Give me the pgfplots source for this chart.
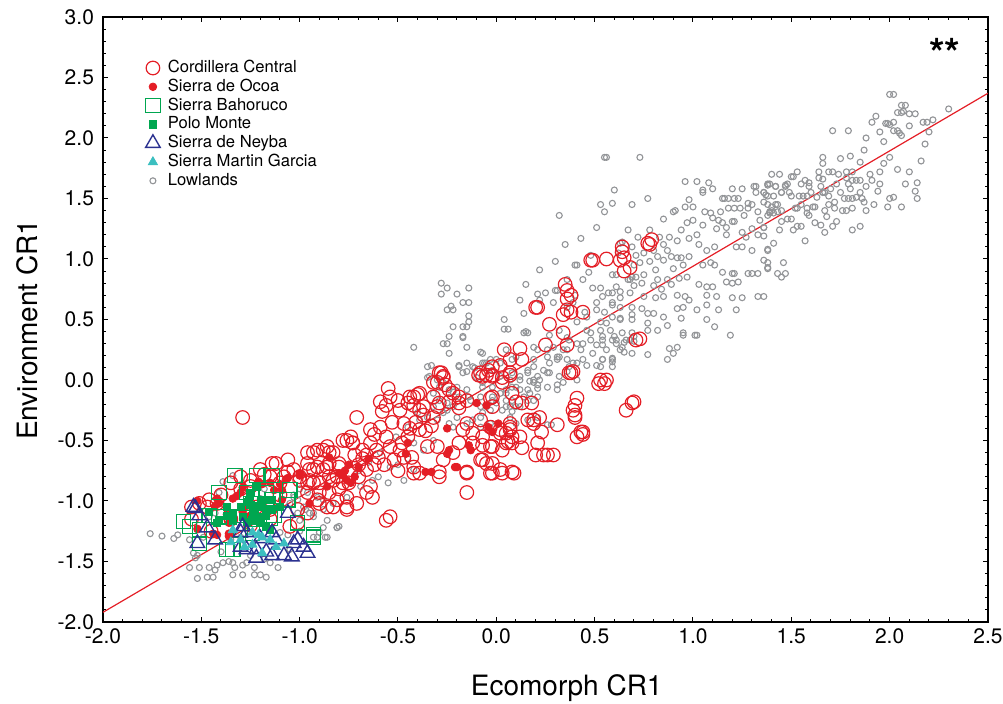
\documentclass[border=0pt]{standalone}
\usepackage{fontspec}
\setmainfont{TeX Gyre Heros}
\usepackage{pgfplots}
\pgfplotsset{compat=1.18}
\definecolor{ccred}{HTML}{E41E26}
\definecolor{bgreen}{HTML}{00A650}
\definecolor{nblue}{HTML}{2B3190}
\definecolor{mcyan}{HTML}{3BBFC0}
\definecolor{lgray}{HTML}{929497}

\pgfplotsset{
  lowstyle/.style={only marks, mark=o, mark size=1.5pt, draw=lgray, line width=0.55pt},
  ccstyle/.style={only marks, mark=o, mark size=3.4pt, draw=ccred, line width=0.6pt},
  ocstyle/.style={only marks, mark=*, mark size=1.9pt, draw=ccred, fill=ccred},
  bhstyle/.style={only marks, mark=square, mark size=3.6pt, draw=bgreen, line width=0.6pt},
  pmstyle/.style={only marks, mark=square*, mark size=1.8pt, draw=bgreen, fill=bgreen},
  nystyle/.style={only marks, mark=triangle, mark size=4.2pt, draw=nblue, line width=0.7pt},
  mgstyle/.style={only marks, mark=triangle*, mark size=2.6pt, draw=mcyan, fill=mcyan},
}

\begin{document}
\begin{tikzpicture}
\begin{axis}[
  scale only axis,
  width=442.5pt, height=302.5pt,
  xmin=-2, xmax=2.5, ymin=-2, ymax=3,
  xtick distance=0.5, ytick distance=0.5, minor tick num=4,
  tick align=inside,
  major tick length=2.6pt, minor tick length=1.6pt,
  axis line style={line width=0.75pt},
  every tick/.style={black, line width=0.5pt},
  /pgf/number format/.cd, fixed, fixed zerofill, precision=1, assume math mode=true,
  /pgfplots/.cd,
  ticklabel style={font=\fontsize{10.5}{12}\selectfont},
  yticklabel style={xshift=-1pt},
  xlabel={Ecomorph CR1}, ylabel={Environment CR1},
  label style={font=\fontsize{14}{16}\selectfont},
  xlabel style={at={(axis description cs:0.524,-0.109)}, anchor=center},
  ylabel style={at={(axis description cs:-0.0859,0.483)}, anchor=center},
  legend style={at={(axis cs:-1.797,2.656)}, anchor=north west, draw=none, fill=none,
    inner sep=0pt, outer sep=0pt, row sep=0pt,
    font=\fontsize{8.3}{9.4}\selectfont,
    nodes={inner sep=0.5pt, text height=6.4pt, text depth=2pt}},
  legend cell align=left,
  legend image code/.code={\path[draw=none, fill=none] (0pt,0pt) -- (12pt,0pt); \draw[#1] plot coordinates {(5pt,0pt)};},
]

% Lowlands
\addplot[lowstyle, forget plot] coordinates {
(2.00,2.36)(2.02,2.36)(2.06,2.27)(2.08,2.27)(2.04,2.21)(2.07,2.22)(2.10,2.20)(2.13,2.20)(2.06,2.21)(2.30,2.24)
(1.93,2.18)(1.91,2.13)(1.98,2.12)(1.99,2.12)(2.00,2.11)(2.02,2.13)(2.17,2.13)(2.19,2.13)(2.04,2.06)(2.05,2.04)
(2.06,2.02)(2.02,2.06)(1.71,2.06)(1.79,2.06)(1.97,1.97)(2.18,1.95)(1.87,1.90)(2.00,1.84)(1.97,1.79)(2.16,1.81)
(2.04,1.74)(2.14,1.63)(2.13,1.56)(2.14,1.50)(1.94,1.56)(1.91,1.65)(2.00,1.50)(2.02,1.51)(1.99,1.43)(2.06,1.43)
(1.86,1.50)(1.87,1.47)(1.77,1.50)(1.79,1.50)(1.81,1.50)(1.83,1.51)(1.85,1.27)(1.81,1.24)(1.73,1.31)(1.71,1.27)
(1.67,1.22)(1.76,1.40)(1.78,1.40)(1.81,1.42)(1.72,1.42)(1.69,1.45)(1.72,1.47)(1.67,1.40)(1.69,1.52)(1.69,1.72)
(1.71,1.72)(1.66,1.84)(1.66,1.79)(1.74,1.70)(1.78,1.72)(1.81,1.72)(1.78,1.67)(1.73,1.62)(1.79,1.62)(1.81,1.65)
(1.83,1.65)(1.85,1.65)(1.66,1.55)(1.68,1.35)
(1.55,1.45)(1.60,1.55)(1.65,1.60)(1.70,1.58)(1.75,1.55)(1.80,1.58)(1.85,1.55)(1.88,1.60)(1.90,1.70)(1.95,1.72)
(1.85,1.80)(1.80,1.85)(1.75,1.83)(1.92,1.45)(1.88,1.40)(1.62,1.30)(1.65,1.28)(1.95,1.62)(2.08,1.62)(2.10,1.72)
(1.88,2.00)(1.95,2.05)(2.10,2.10)(2.20,2.05)(2.22,2.15)
(1.40,1.70)(1.44,1.70)(1.50,1.68)(1.53,1.72)(1.38,1.62)(1.39,1.62)(1.42,1.60)(1.47,1.60)(1.48,1.62)(1.36,1.55)
(1.38,1.52)(1.41,1.52)(1.45,1.55)(1.49,1.55)(1.50,1.52)(1.54,1.52)(1.56,1.52)(1.58,1.52)(1.57,1.65)(1.59,1.63)
(1.59,1.60)(1.55,1.62)(1.64,1.72)(1.64,1.67)(1.66,1.66)(1.63,1.51)(1.66,1.55)(1.67,1.55)
(1.36,1.47)(1.38,1.45)(1.40,1.43)(1.42,1.45)(1.43,1.45)(1.39,1.39)(1.41,1.38)(1.38,1.36)(1.43,1.39)(1.45,1.40)
(1.45,1.31)(1.48,1.33)(1.50,1.33)(1.53,1.27)(1.55,1.27)(1.57,1.15)(1.52,1.42)(1.53,1.42)(1.58,1.42)(1.58,1.38)
(1.59,1.36)(1.61,1.43)(1.62,1.43)(1.36,1.26)(1.36,1.19)(1.41,1.13)(1.38,1.07)(1.36,0.99)(1.38,0.97)(1.38,0.92)
(1.46,0.97)(1.43,0.88)(1.45,0.85)(1.47,0.88)
(1.12,1.25)(1.15,1.30)(1.25,1.22)(1.27,1.18)(1.30,1.25)(1.33,1.20)(1.30,1.45)(1.24,1.42)(1.18,1.50)(1.20,1.58)
(1.02,1.20)(1.05,1.28)(1.00,1.32)(0.97,1.30)
(0.55,1.84)(0.56,1.84)(0.73,1.84)(0.96,1.64)(1.02,1.64)(1.08,1.63)(1.05,1.57)(1.05,1.55)(1.10,1.58)(1.15,1.50)
(1.16,1.50)(1.21,1.50)(1.23,1.50)(1.25,1.58)(1.31,1.60)(1.32,1.60)(1.32,1.55)(1.28,1.46)(1.36,1.55)(1.37,1.53)
(1.38,1.61)(1.42,1.60)(1.45,1.55)(1.47,1.61)(1.51,1.68)
(0.59,1.46)(0.69,1.45)(0.77,1.50)(0.55,1.39)(0.85,1.33)(0.90,1.39)(0.91,1.40)(0.96,1.43)(0.94,1.24)(0.98,1.49)
(1.00,1.43)(1.06,1.39)(1.09,1.38)(1.10,1.34)(1.13,1.32)(1.14,1.39)(1.18,1.42)(1.21,1.42)(1.17,1.26)(1.20,1.31)
(1.21,1.31)(1.26,1.36)(1.28,1.42)(1.33,1.39)(1.34,1.32)(1.36,1.26)(1.39,1.38)(1.40,1.40)
(0.67,1.24)(0.78,1.24)(0.83,1.18)(0.92,1.15)(0.98,1.17)(1.03,1.12)(1.07,1.07)(1.11,1.10)(1.17,1.20)(1.22,1.10)
(1.25,1.10)(1.30,1.07)(1.38,1.08)(1.44,1.24)(1.51,1.24)
(0.64,1.14)(0.63,1.13)(0.69,1.10)(0.71,1.03)(0.73,0.97)(0.80,1.07)(0.82,1.02)(0.87,1.07)(0.89,1.02)(0.85,0.99)
(0.92,1.01)(0.94,1.01)(0.98,1.02)(1.05,0.95)(1.09,0.97)(1.11,0.95)(1.15,0.89)(1.20,0.88)(1.21,0.88)(1.28,0.88)
(1.30,0.88)(1.33,0.88)(1.38,0.93)
(0.70,0.95)(0.75,1.05)(0.78,0.98)(0.85,1.12)(0.88,1.18)(0.90,0.92)(0.95,0.95)(0.72,1.18)(0.62,1.05)(0.80,0.78)
(0.84,0.75)(0.70,0.78)
(0.61,0.87)(0.67,0.83)(0.69,0.85)(0.75,0.87)(0.81,0.91)(0.82,0.83)(0.87,0.83)(0.89,0.79)(0.93,0.84)(0.97,0.85)
(1.03,0.79)(1.07,0.77)(1.10,0.77)(1.17,0.81)(1.20,0.80)(1.23,0.81)
(0.54,0.69)(0.59,0.72)(0.63,0.68)(0.68,0.72)(0.75,0.69)(0.81,0.68)(0.85,0.69)(0.92,0.70)(0.96,0.69)(0.98,0.66)
(1.07,0.70)(1.12,0.69)(1.20,0.68)(1.25,0.68)(1.33,0.69)(1.36,0.69)
(0.59,0.62)(0.69,0.60)(0.74,0.59)(0.80,0.55)(0.85,0.52)(0.92,0.59)(0.95,0.60)(1.02,0.58)(1.07,0.62)(1.13,0.58)
(1.22,0.58)(0.56,0.47)(0.63,0.51)(0.69,0.54)(0.77,0.47)(0.87,0.45)(0.94,0.51)(0.95,0.39)(1.07,0.50)(1.11,0.44)
(1.19,0.37)(0.54,0.33)(0.60,0.36)(0.65,0.31)(0.70,0.32)(0.77,0.21)(0.88,0.26)(0.92,0.27)(0.90,0.22)(1.02,0.37)
(0.54,0.17)(0.59,0.17)(0.65,0.23)(0.87,0.17)
(-0.28,0.80)(-0.28,0.71)(-0.25,0.76)(-0.14,0.76)(-0.20,0.71)(-0.17,0.64)(-0.14,0.64)(-0.25,0.58)(-0.23,0.61)(-0.22,0.58)
(-0.14,0.53)(-0.14,0.48)(-0.22,0.44)(-0.17,0.44)(-0.15,0.44)(-0.24,0.36)(-0.17,0.36)(-0.17,0.35)(-0.27,0.30)(-0.25,0.30)
(-0.15,0.27)(-0.42,0.27)(-0.24,0.22)(-0.08,0.23)(0.04,0.42)(0.06,0.42)(0.15,0.40)(0.16,0.39)(0.14,0.55)(0.21,0.71)
(0.25,0.72)(0.29,0.64)(0.30,0.74)(0.31,0.74)(0.44,0.83)(0.36,0.83)(0.40,0.95)(0.41,0.95)(0.47,0.89)(0.59,0.87)
(0.61,0.77)(0.57,0.72)(0.63,0.73)(0.68,0.83)(0.71,0.85)(0.74,0.80)(0.49,0.76)(0.53,0.76)(0.51,0.64)(0.59,0.64)
(0.63,0.60)(0.45,0.56)(0.51,0.58)(0.55,0.56)(0.36,0.60)(0.39,0.64)(0.41,0.48)(0.46,0.52)(0.53,0.48)(0.59,0.52)
(0.63,0.50)(0.69,0.50)(0.77,0.55)(0.46,0.41)(0.53,0.41)(0.58,0.41)(0.64,0.39)(0.69,0.39)(0.77,0.41)(0.82,0.41)
(0.32,0.41)(0.36,0.35)(0.48,0.33)(0.54,0.29)(0.61,0.33)(0.66,0.33)(0.43,0.25)(0.49,0.22)(0.56,0.25)(0.63,0.25)
(0.69,0.22)(0.29,0.27)(0.32,0.19)(0.36,0.25)(0.21,0.25)(0.26,0.25)(0.19,0.17)(0.27,0.14)(0.31,0.17)(0.39,0.14)
(0.46,0.12)(0.53,0.11)(0.59,0.15)(0.16,0.08)(0.21,0.03)(0.26,0.06)(0.32,0.03)(0.36,0.07)
(-0.03,0.17)(0.02,0.14)(0.08,0.17)(0.10,0.19)(-0.07,0.10)(-0.02,0.08)(0.02,0.03)(0.07,0.00)(0.12,0.03)(0.17,-0.01)
(0.22,0.00)(-0.07,-0.02)(-0.02,-0.06)(0.05,-0.08)(0.10,-0.06)(0.16,-0.08)(0.21,-0.04)(0.26,-0.06)(0.31,-0.04)(-0.12,0.11)
(-0.15,0.14)(-0.19,0.11)(-0.10,0.02)(-0.15,-0.08)(-0.20,-0.06)(-0.24,-0.08)(-0.27,-0.02)(-0.30,0.00)(-0.34,0.03)(-0.35,0.11)
(-0.33,0.12)(-0.29,-0.17)(-0.25,-0.19)(-0.22,-0.22)(-0.19,-0.14)(-0.13,-0.17)(-0.08,-0.14)(-0.05,-0.22)(0.00,-0.19)(0.03,-0.25)
(0.05,-0.17)(0.10,-0.22)(0.14,-0.14)(0.19,-0.17)(0.07,-0.31)(0.10,-0.36)(0.16,-0.33)(0.21,-0.31)(-0.27,-0.27)(-0.32,-0.22)
(-0.35,-0.31)(-0.39,-0.33)(-0.24,-0.36)(-0.20,-0.31)(-0.08,-0.31)(-0.03,-0.36)(-0.15,-0.36)
(-0.35,0.02)(-0.19,0.12)(-0.15,0.07)(-0.11,0.10)(-0.06,0.14)(0.00,0.17)
(-0.17,0.06)(-0.07,0.14)(0.08,0.06)(0.16,0.06)(0.19,-0.02)(0.12,-0.08)(0.05,-0.11)(-0.02,-0.17)(0.07,-0.22)(-0.08,-0.22)
(-0.14,-0.14)(-0.22,-0.10)(-0.29,-0.06)(-0.32,-0.11)(-0.25,-0.25)(-0.30,-0.33)(-0.40,-0.27)(-0.45,-0.39)(-0.51,-0.47)(-0.42,-0.52)
(-0.37,-0.58)(-0.32,-0.50)(-0.22,-0.39)(-0.12,-0.33)(-0.08,-0.39)(-0.59,-0.60)(-0.54,-0.72)(-0.42,-0.74)(-0.47,-0.83)(-0.63,-0.83)
(-0.69,-0.88)(-0.76,-0.97)(-0.83,-1.02)(-0.88,-1.07)(-0.93,-1.10)(-0.98,-1.05)(-1.03,-0.97)(-1.00,-1.16)(-0.86,-1.16)(-0.81,-1.22)
(-0.91,-1.30)
(-0.07,0.22)(-0.05,0.14)(0.05,0.25)(0.14,0.39)(0.19,0.27)(0.27,0.37)(0.34,0.25)(0.37,0.33)(0.41,0.30)(0.44,0.30)
(0.48,0.39)(0.51,0.29)(0.54,0.36)(0.59,0.33)(0.61,0.30)(0.64,0.27)(0.68,0.33)(0.70,0.36)(0.95,0.37)(1.01,0.37)
(0.26,0.19)(0.31,0.19)(0.36,0.17)(0.37,0.11)(0.41,0.14)(0.44,0.17)(0.51,0.12)(0.54,0.17)(0.59,0.18)(0.59,0.11)
(0.19,0.11)(0.24,0.08)(0.27,0.06)(0.19,0.00)(0.21,-0.07)(0.31,-0.08)(0.34,-0.02)(0.41,0.00)(0.12,0.00)(0.08,-0.06)
(0.02,-0.11)(-0.02,-0.14)(0.08,-0.17)(0.17,-0.11)(0.05,-0.22)(0.08,-0.26)(0.12,-0.22)(0.16,-0.17)(0.21,-0.14)(0.26,-0.37)
(0.28,-0.37)(-0.07,-0.27)(-0.03,-0.25)(-0.07,-0.06)
(0.35,1.12)(0.43,1.17)(0.51,1.26)(0.48,1.03)(0.30,0.98)(0.22,0.91)(0.15,0.79)(0.40,0.70)(0.22,0.66)(0.32,1.36)
(0.53,1.45)(0.60,1.57)(0.12,0.66)(0.04,0.50)
(-1.76,-1.27)(-1.70,-1.29)(-1.64,-1.31)(-1.62,-1.28)(-1.56,-1.32)(-1.54,-1.43)(-1.52,-1.45)(-1.53,-1.47)(-1.56,-1.55)(-1.51,-1.55)
(-1.52,-1.64)(-1.47,-1.63)(-1.44,-1.63)(-1.46,-1.55)(-1.43,-1.57)(-1.42,-1.53)(-1.39,-1.51)(-1.36,-1.50)(-1.34,-1.51)(-1.33,-1.55)
(-1.29,-1.53)(-1.27,-1.51)(-1.34,-1.61)(-1.29,-1.61)(-1.23,-1.55)(-1.23,-1.61)(-1.20,-1.61)(-1.17,-1.63)(-1.15,-1.51)(-1.11,-1.55)
(-1.39,-0.84)(-1.41,-0.93)(-1.34,-0.79)(-1.27,-1.17)(-1.20,-0.98)(-1.00,-0.90)(-0.95,-1.10)(-0.88,-1.22)(-0.93,-1.30)(-0.86,-1.30)
(-0.81,-1.22)(-1.46,-1.13)(-1.43,-1.10)(-1.52,-1.24)(-1.49,-1.30)(-1.35,-1.32)(-1.30,-1.30)
(-1.18,-0.90)(-1.03,-0.95)(-1.01,-0.99)(-1.05,-1.02)(-0.96,-0.93)(-0.91,-0.97)(-0.88,-0.99)(-0.90,-1.26)(-0.87,-1.30)(-0.80,-1.21)
(-0.97,-1.07)(-0.93,-1.13)(-1.01,-1.10)(-1.10,-1.26)(-1.06,-1.28)(-1.25,-1.45)(-1.18,-1.48)(-1.40,-1.42)(-1.05,-1.40)(-1.00,-1.25)
(-0.70,-0.75)(-0.65,-0.68)(-0.60,-0.80)(-0.55,-0.85)(-0.50,-0.70)(-0.45,-0.65)
};

% regression line
\addplot[ccred, line width=0.6pt, forget plot] coordinates {(-2,-1.92) (2.5,2.37)};

% Cordillera Central
\addplot[ccstyle] coordinates {
(-1.29,-0.31)
(0.21,0.60)(0.35,0.79)(0.38,0.70)(0.36,0.58)(0.48,0.99)(0.63,0.99)(0.64,1.10)(0.65,0.90)(0.78,1.12)(0.79,1.16)
(0.71,0.33)(0.73,0.34)(0.53,0.00)(0.56,0.00)(0.39,0.07)(0.40,-0.21)(0.40,-0.29)(0.44,-0.43)(0.41,-0.47)(0.66,-0.25)
(0.69,-0.19)(0.56,1.00)(0.64,1.06)(0.65,1.01)(0.68,0.93)(0.77,1.13)(0.49,0.99)(0.36,0.74)(0.36,0.67)(0.20,0.60)
(0.34,0.54)(0.38,0.56)(0.44,0.56)(0.27,0.46)(0.34,0.39)(0.36,0.29)(0.25,0.29)
(0.04,0.25)(0.12,0.26)(0.07,0.17)(0.02,0.12)(0.03,0.02)(-0.02,0.03)(-0.07,0.03)(-0.09,0.04)(-0.04,0.08)(0.38,0.06)
(0.52,-0.03)(0.55,-0.03)(-0.28,0.06)(-0.27,0.02)(-0.26,-0.04)(0.13,-0.19)(0.18,-0.19)(0.10,-0.18)(-0.03,-0.15)(-0.02,-0.22)
(0.41,-0.15)(0.39,-0.25)(0.40,-0.31)(0.19,-0.33)(0.22,-0.31)(0.23,-0.43)(0.31,-0.37)(0.43,-0.43)(0.44,-0.45)(0.70,-0.18)
(-0.19,-0.14)(-0.19,-0.23)(-0.24,-0.08)(-0.24,-0.18)(-0.32,-0.14)(-0.29,-0.19)(-0.39,-0.11)(-0.42,-0.14)(-0.45,-0.19)(-0.39,-0.25)
(-0.15,-0.36)(-0.17,-0.41)(-0.12,-0.44)(-0.07,-0.47)(0.02,-0.41)(0.05,-0.44)(0.07,-0.36)(-0.19,-0.52)(-0.12,-0.52)(-0.07,-0.54)
(-0.02,-0.55)(0.03,-0.58)(0.05,-0.52)(0.13,-0.56)(0.20,-0.62)(0.24,-0.62)(0.29,-0.62)(-0.07,-0.66)(-0.02,-0.69)(0.02,-0.74)
(0.08,-0.76)(-0.15,-0.76)(-0.29,-0.76)(-0.42,-0.72)(-0.47,-0.64)
(0.13,0.17)(0.03,-0.02)(0.07,0.04)(-0.02,0.11)(0.37,0.06)(0.07,-0.41)(0.08,-0.47)(0.06,-0.51)(-0.03,-0.55)(0.26,-0.62)
(-0.03,-0.77)(0.03,-0.77)(0.09,-0.77)
(-0.93,-0.60)(-0.88,-0.58)(-0.85,-0.60)(-0.78,-0.50)(-0.73,-0.52)(-0.96,-0.69)(-0.91,-0.72)(-0.85,-0.69)(-0.80,-0.69)(-1.03,-0.74)
(-1.06,-0.76)(-1.12,-0.69)(-1.08,-0.80)(-1.00,-0.83)(-0.95,-0.83)(-0.90,-0.85)(-0.85,-0.80)(-0.78,-0.85)(-0.74,-0.77)(-0.96,-0.93)
(-0.91,-0.99)(-0.86,-1.05)(-0.81,-0.99)(-0.76,-1.07)(-1.01,-1.07)(-0.96,-1.10)(-1.46,-0.99)(-1.42,-1.02)(-1.47,-1.05)(-1.22,-1.05)
(-1.15,-1.07)(-1.05,-1.21)(-1.01,-1.18)
(-1.14,-0.69)(-1.06,-0.66)(-0.96,-0.60)(-0.91,-0.58)(-0.86,-0.55)(-0.83,-0.60)(-0.93,-0.74)(-0.86,-0.72)(-0.83,-0.83)(-0.96,-0.85)
(-1.51,-1.02)
(-0.71,-0.31)(-0.55,-0.07)(-0.54,-0.14)(-0.59,-0.18)(-0.56,-0.21)(-0.50,-0.17)(-0.49,-0.25)(-0.44,-0.14)(-0.40,-0.12)(-0.42,-0.21)
(-0.37,-0.22)(-0.37,-0.29)(-0.32,-0.31)(-0.30,-0.22)(-0.29,0.06)(-0.27,0.03)(-0.30,-0.02)(-0.22,-0.11)(-0.19,-0.19)(-0.15,-0.17)
(-0.58,-0.26)(-0.53,-0.35)(-0.59,-0.39)(-0.64,-0.41)(-0.56,-0.47)(-0.74,-0.47)(-0.73,-0.52)(-0.76,-0.50)(-0.64,-0.52)(-0.68,-0.58)
(-0.61,-0.58)(-0.54,-0.55)(-0.49,-0.58)(-0.45,-0.47)(-0.43,-0.64)(-0.39,-0.41)(-0.35,-0.55)(-0.30,-0.55)(-0.27,-0.66)(-0.22,-0.60)
(0.08,-0.52)(0.12,-0.47)(-0.08,-0.66)(-0.05,-0.69)(-0.02,-0.77)(-0.15,-0.77)(-0.29,-0.80)(-0.39,-0.77)(-0.42,-0.77)(-0.15,-0.93)
(-0.54,-1.13)(-0.56,-1.16)(-0.71,-1.02)(-0.76,-1.05)(-0.64,-0.88)(-0.66,-0.93)(-0.63,-0.97)(-1.00,-0.80)(-0.95,-0.74)(-0.88,-0.74)
(-0.80,-0.72)(-0.93,-0.85)(-0.81,-0.80)(-0.90,-0.93)(-0.85,-0.93)(-0.80,-0.90)(-0.76,-0.97)(-0.83,-1.05)(-0.90,-1.02)
(-0.08,0.06)(-0.02,0.04)(0.07,0.06)(-0.02,-0.14)(0.08,-0.11)(0.16,-0.33)(0.19,-0.36)(0.21,-0.52)(-0.08,-0.33)(-0.03,-0.39)
(0.02,-0.44)(0.07,-0.39)(-0.32,-0.02)(-0.05,0.04)
(-0.70,-0.70)(-0.66,-0.74)(-0.62,-0.70)(-0.70,-0.80)(-0.75,-0.85)(-0.72,-0.62)(-0.68,-0.65)(-0.60,-0.64)(-0.57,-0.70)(-0.52,-0.66)
(-0.50,-0.75)(-0.48,-0.52)(-0.44,-0.40)(-0.41,-0.35)(-0.36,-0.42)(-0.33,-0.38)(-0.47,-0.36)(-0.62,-0.45)(-0.66,-0.62)(-1.20,-0.74)
(-1.18,-0.78)(-1.25,-0.83)(-1.30,-0.80)(-1.10,-0.85)
(-1.55,-1.05)(-1.40,-0.95)(-1.35,-0.85)(-1.30,-0.90)(-1.25,-0.88)(-1.15,-0.80)(-1.10,-0.95)(-1.35,-1.15)(-1.25,-1.20)(-1.15,-1.15)
(-1.55,-1.15)(-1.45,-1.25)
};
\addlegendentry{Cordillera Central}

% Sierra de Ocoa
\addplot[ocstyle] coordinates {
(-0.10,-0.19)(-0.05,-0.21)(0.01,-0.36)(-0.04,-0.39)(-0.02,-0.43)(-0.25,-0.40)(-0.24,-0.58)(-0.20,-0.72)(-0.14,-0.54)(-0.36,-0.76)
(-0.33,-0.76)(-0.13,-0.58)(-0.25,-0.61)(-0.21,-0.72)(-0.45,-0.52)(-0.46,-0.61)(-0.78,-0.79)(-0.74,-0.85)(-0.76,-0.83)(-0.85,-0.64)
(-1.00,-0.77)(-0.95,-1.02)(-0.86,-0.88)
(-1.29,-0.89)(-1.21,-0.84)(-1.19,-0.86)(-1.15,-0.85)(-1.10,-0.86)(-1.07,-0.82)(-1.42,-0.98)(-1.41,-1.02)(-1.43,-1.04)(-1.52,-1.00)
(-1.34,-0.98)(-1.32,-0.96)(-1.30,-0.93)(-1.09,-0.99)(-1.27,-1.04)(-1.24,-1.06)(-1.37,-1.11)(-1.52,-1.23)(-1.44,-1.27)(-1.42,-1.28)
(-1.36,-1.27)(-1.09,-0.91)(-1.13,-0.91)(-1.36,-1.18)(-1.36,-1.29)(-1.29,-1.09)(-1.25,-1.12)(-1.06,-0.81)(-1.00,-0.79)
(-0.80,-0.77)(-0.77,-0.75)(-0.72,-0.80)(-0.70,-0.72)(-0.75,-0.70)(-0.65,-0.65)
};
\addlegendentry{Sierra de Ocoa}

% Sierra Bahoruco
\addplot[bhstyle] coordinates {
(-1.33,-0.79)(-1.22,-0.79)(-1.14,-0.79)(-1.41,-0.93)(-1.27,-0.93)(-1.17,-0.93)(-1.05,-0.91)(-1.59,-1.17)(-1.56,-1.21)(-1.51,-1.35)
(-1.46,-1.12)(-1.41,-1.13)(-1.34,-1.40)(-1.25,-1.02)(-1.22,-1.07)(-1.01,-1.18)(-0.93,-1.30)(-0.93,-1.28)(-1.17,-1.02)(-1.14,-0.99)
(-1.51,-1.24)(-1.30,-1.24)(-1.24,-1.27)(-1.15,-1.14)(-1.06,-0.99)(-1.13,-1.12)(-1.37,-1.40)
};
\addlegendentry{Sierra Bahoruco}

% Polo Monte
\addplot[pmstyle] coordinates {
(-1.46,-1.09)(-1.37,-1.05)(-1.34,-1.10)(-1.30,-1.05)(-1.27,-1.01)(-1.25,-1.03)(-1.23,-1.09)(-1.20,-1.13)(-1.17,-1.12)(-1.14,-1.07)
(-1.14,-0.99)(-1.10,-1.05)(-1.42,-1.18)(-1.41,-1.16)(-1.27,-1.17)(-1.24,-1.16)(-1.20,-1.18)(-1.17,-1.21)(-1.15,-1.24)(-1.29,-1.13)
(-1.34,-1.16)(-1.26,-0.99)(-1.21,-1.05)(-1.18,-0.99)(-1.16,-1.07)(-1.37,-1.12)(-1.25,-0.93)(-1.22,-0.88)
};
\addlegendentry{Polo Monte}

% Sierra de Neyba
\addplot[nystyle] coordinates {
(-1.53,-1.06)(-1.51,-1.12)(-1.52,-1.35)(-1.47,-1.22)(-1.06,-1.10)(-1.01,-1.32)(-0.96,-1.43)(-1.22,-1.47)(-1.08,-1.45)(-1.04,-1.46)
(-1.30,-1.26)(-1.30,-1.38)(-1.27,-1.40)(-1.22,-1.40)(-1.17,-1.42)(-1.14,-1.45)(-1.12,-1.32)(-1.20,-1.31)
(-1.54,-1.05)(-1.43,-1.32)(-1.29,-1.21)(-1.27,-1.26)(-1.03,-1.35)(-0.98,-1.38)(-1.14,-1.26)
};
\addlegendentry{Sierra de Neyba}

% Sierra Martin Garcia
\addplot[mgstyle] coordinates {
(-1.35,-1.34)(-1.30,-1.32)(-1.24,-1.26)(-1.21,-1.28)(-1.19,-1.30)(-1.15,-1.32)(-1.12,-1.38)(-1.08,-1.35)(-1.19,-1.43)(-1.24,-1.36)
(-1.28,-1.38)(-1.34,-1.24)
};
\addlegendentry{Sierra Martin Garcia}

\addlegendimage{lowstyle}
\addlegendentry{Lowlands}

\node[anchor=base, font=\fontsize{20}{20}\selectfont\bfseries] at (axis cs:2.28,2.58) {**};
\end{axis}
\pgfresetboundingbox
\path (-51.5pt,-41pt) rectangle (450pt,311pt);
\end{tikzpicture}
\end{document}
